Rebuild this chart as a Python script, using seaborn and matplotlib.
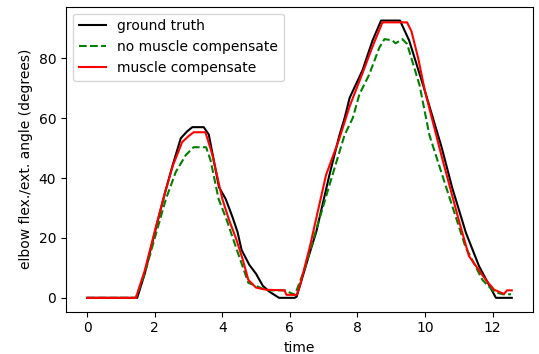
import matplotlib
matplotlib.use("Agg")
import matplotlib.pyplot as plt
import seaborn as sns
import pandas as pd

# ground truth
t_gt = [0, 1.48, 1.7, 2.04, 2.3, 2.53, 2.77, 2.95, 3.11, 3.45, 3.6, 3.9, 4.1, 4.3, 4.45,
        4.57, 4.8, 5.0, 5.2, 5.4, 5.68, 6.14, 6.2, 6.56, 6.78, 7.17, 7.46, 7.62, 7.77, 8.15,
        8.45, 8.70, 9.26, 9.53, 10.0, 10.5, 10.8, 11.21, 11.6, 12.1, 12.57]
y_gt = [0, 0, 8, 23.6, 35, 44.3, 53.3, 55.5, 57, 57, 54.5, 37, 33, 27, 22,
        16, 11, 8, 4, 2, 0, 0, 0.4, 14, 22, 41, 54, 60, 66.8, 76,
        86, 92.6, 92.6, 86, 69, 50, 37, 21.8, 10.6, 0, 0]

# no muscle compensate
t_nm = [0, 1.44, 1.7, 2.09, 2.33, 2.62, 2.92, 3.15, 3.52, 3.65, 3.89, 4.13, 4.4, 4.77,
        5.0, 5.3, 5.85, 6.15, 6.45, 6.76, 7.26, 7.62, 7.86, 8.06, 8.35, 8.65, 8.8, 9.03,
        9.13, 9.33, 9.47, 9.84, 10.13, 10.72, 11.2, 11.7, 12.05, 12.3, 12.55]
y_nm = [0, 0, 8, 23.6, 33, 42, 47.7, 50.3, 50.3, 46, 33, 26, 17, 5,
        4, 2.5, 2.5, 1, 10, 22, 41, 54.4, 60, 68, 74.6, 83.6, 86.4, 86,
        85, 86.4, 84.8, 71, 54.4, 33.7, 17, 6, 2, 1.2, 1.2]

# muscle compensate
t_mc = [0, 1.44, 1.7, 2.04, 2.3, 2.53, 2.81, 3.0, 3.15, 3.5, 3.7, 3.9, 4.0, 4.2, 4.4,
        4.6, 4.77, 5.0, 5.3, 5.84, 5.9, 6.2, 6.29, 6.59, 7.07, 7.46, 7.77, 8.15, 8.45,
        8.74, 9.47, 9.6, 9.8, 10.0, 10.5, 11.0, 11.3, 11.8, 12.05, 12.34,
        12.43, 12.57]
y_mc = [0, 0, 9, 24, 35, 44, 52, 54, 55.3, 55.3, 48, 38, 33, 26, 20,
        13, 6, 3.4, 2.7, 2.5, 1, 1, 3.8, 17, 41, 53, 64, 75, 84,
        92, 92, 89, 80, 69, 47, 26, 14, 6, 2.7, 1.3,
        2.5, 2.5]

labels = ["ground truth", "no muscle compensate", "muscle compensate"]

fig, ax = plt.subplots(figsize=(5.39, 3.54), dpi=100)
fig.subplots_adjust(left=66/539, right=533/539, top=1-6.7/354, bottom=1-311.7/354)

series = [(t_gt, y_gt, "black", "-"), (t_nm, y_nm, "green", "--"), (t_mc, y_mc, "red", "-")]
for (t, y, c, ls), lab in zip(series, labels):
    df = pd.DataFrame({"time": t, "angle": y})
    sns.lineplot(data=df, x="time", y="angle", ax=ax, color=c, linestyle=ls,
                 label=lab, estimator=None, linewidth=1.5)

ax.set_xlabel("time")
ax.set_ylabel("elbow flex./ext. angle (degrees)")
ax.set_xticks([0, 2, 4, 6, 8, 10, 12])
ax.set_yticks([0, 20, 40, 60, 80])
ax.legend(loc="upper left")
fig.savefig("out.png", dpi=100)
